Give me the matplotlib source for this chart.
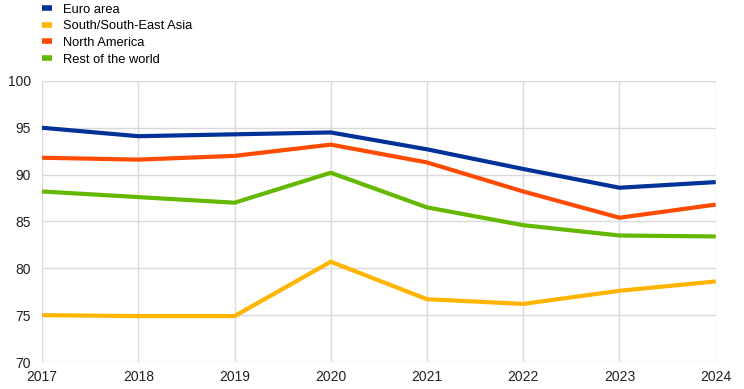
import matplotlib.pyplot as plt
import numpy as np

plt.rcParams['font.family'] = ['Liberation Sans', 'DejaVu Sans']

years = [2017, 2018, 2019, 2020, 2021, 2022, 2023, 2024]
euro_area = [95.0, 94.1, 94.3, 94.5, 92.7, 90.6, 88.6, 89.2]
south_asia = [75.0, 74.9, 74.9, 80.7, 76.7, 76.2, 77.6, 78.6]
north_america = [91.8, 91.6, 92.0, 93.2, 91.3, 88.2, 85.4, 86.8]
rest_world = [88.2, 87.6, 87.0, 90.2, 86.5, 84.6, 83.5, 83.4]

names = ['Euro area', 'South/South-East Asia', 'North America', 'Rest of the world']
series = [euro_area, south_asia, north_america, rest_world]
colors = ['#003299', '#FFB400', '#FF4B00', '#65B800']

fig = plt.figure(figsize=(7.44, 3.89), dpi=100)
ax = fig.add_axes([0.0565, 0.0694, 0.9055, 0.7226])

for vals, c, n in zip(series, colors, names):
    ax.plot(years, vals, color=c, lw=3, label=n, solid_capstyle='butt')

ax.set_xlim(2017, 2024)
ax.set_ylim(70, 100)
ax.set_xticks(years)
ax.set_yticks(np.arange(70, 101, 5))
ax.grid(True, color='#d9d9d9', lw=1)
ax.set_axisbelow(True)
for s in ax.spines.values():
    s.set_visible(False)
ax.tick_params(length=0, labelsize=10, colors='#222222')
ax.tick_params(axis='x', pad=6)
ax.tick_params(axis='y', pad=8)

leg = fig.legend(loc='upper left', bbox_to_anchor=(0.041, 1.02), frameon=False,
                 fontsize=9.3, handlelength=0.75, handletextpad=0.9,
                 labelspacing=0.35)
for h in leg.get_lines():
    h.set_linewidth(4)

plt.savefig('out.png', dpi=100)
